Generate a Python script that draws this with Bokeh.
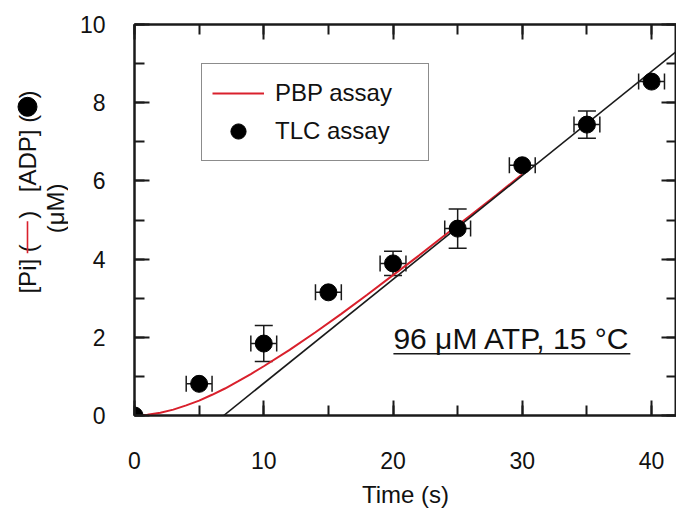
import math
from bokeh.plotting import figure
from bokeh.layouts import row
from bokeh.models import (Range1d, LinearAxis, SingleIntervalTicker, Whisker, TeeHead,
                          ColumnDataSource, Label, Legend, LegendItem, BoxAnnotation,
                          CustomJSTickFormatter)
from bokeh.core.properties import value
from bokeh.embed import file_html
from bokeh.resources import INLINE

# ---- data ----
tlc_time = [0, 5, 10, 15, 20, 25, 30, 35, 40]
tlc_adp = [0.0, 0.81, 1.84, 3.15, 3.89, 4.78, 6.40, 7.44, 8.54]
tlc_time_err = [0, 1, 1, 1, 1, 1, 1, 1, 1]
tlc_adp_err = [0, 0, 0.46, 0, 0.31, 0.50, 0, 0.35, 0]

pbp_time = [0, 1, 2, 3, 4, 5, 6, 7, 8, 9, 10, 12, 14, 16, 18, 20, 22, 24, 26, 28, 30]
pbp_pi = [0.0, 0.02, 0.07, 0.15, 0.26, 0.38, 0.53, 0.69, 0.87, 1.06, 1.26, 1.68,
          2.13, 2.60, 3.09, 3.59, 4.09, 4.61, 5.12, 5.64, 6.17]

fit_time = [6.9, 42.0]
fit_conc = [0.0, 9.33]

x_axis_max = 41.93
y_axis_max = 10.0
x_label = "Time (s)"
annotation_text = "96 \u03bcM ATP, 15 \u00b0C"

FONT = "Liberation Sans"
INK = "#1a1a1a"
TXT = "#111111"
RED = "#d9202c"
H = 513
TW = 68  # width of the side panel holding the rotated y title

p = figure(frame_width=542, frame_height=391,
           x_range=Range1d(0, x_axis_max), y_range=Range1d(0, y_axis_max),
           output_backend="svg", toolbar_location=None,
           min_border_left=134 - TW, min_border_top=24, min_border_bottom=H - 415,
           min_border_right=0)
p.grid.visible = False
p.outline_line_color = INK
p.outline_line_width = 2
p.background_fill_color = "white"
p.border_fill_color = "white"

blank = CustomJSTickFormatter(code="return ''")


def style_axis(ax, ticker, labels=True):
    ax.ticker = ticker
    ax.axis_line_color = INK
    ax.axis_line_width = 2
    ax.major_tick_line_color = INK
    ax.minor_tick_line_color = INK
    ax.major_tick_line_width = 2
    ax.minor_tick_line_width = 2
    ax.major_tick_in = 15
    ax.major_tick_out = 0
    ax.minor_tick_in = 10
    ax.minor_tick_out = 0
    ax.major_label_text_font = FONT
    ax.major_label_text_color = TXT
    ax.major_label_text_font_size = "23px"
    if not labels:
        ax.formatter = blank
        ax.major_label_text_font_size = "1px"
        ax.major_label_standoff = 0


style_axis(p.xaxis[0], SingleIntervalTicker(interval=10, num_minor_ticks=2))
style_axis(p.yaxis[0], SingleIntervalTicker(interval=2, num_minor_ticks=2))
p.xaxis[0].major_label_standoff = 36
p.yaxis[0].major_label_standoff = 29
p.xaxis[0].axis_label = x_label
p.xaxis[0].axis_label_text_font = FONT
p.xaxis[0].axis_label_text_font_size = "24px"
p.xaxis[0].axis_label_text_font_style = "normal"
p.xaxis[0].axis_label_text_color = TXT
p.xaxis[0].axis_label_standoff = 9

top_ax = LinearAxis()
style_axis(top_ax, SingleIntervalTicker(interval=10, num_minor_ticks=2), labels=False)
p.add_layout(top_ax, "above")
right_ax = LinearAxis()
style_axis(right_ax, SingleIntervalTicker(interval=2, num_minor_ticks=2), labels=False)
p.add_layout(right_ax, "right")

# ---- curves ----
r_pbp = p.line(pbp_time, pbp_pi, line_color=RED, line_width=2)
p.line(fit_time, fit_conc, line_color=INK, line_width=1.6)

# ---- error bars ----
yerr_idx = [i for i, e in enumerate(tlc_adp_err) if e > 0]
ysrc = ColumnDataSource(dict(
    x=[tlc_time[i] for i in yerr_idx],
    lo=[tlc_adp[i] - tlc_adp_err[i] for i in yerr_idx],
    hi=[tlc_adp[i] + tlc_adp_err[i] for i in yerr_idx]))
p.add_layout(Whisker(source=ysrc, base="x", lower="lo", upper="hi", dimension="height",
                     line_color=INK, line_width=1.5,
                     lower_head=TeeHead(size=18, line_color=INK, line_width=1.5),
                     upper_head=TeeHead(size=18, line_color=INK, line_width=1.5)))
xerr_idx = [i for i, e in enumerate(tlc_time_err) if e > 0]
xsrc = ColumnDataSource(dict(
    y=[tlc_adp[i] for i in xerr_idx],
    lo=[tlc_time[i] - tlc_time_err[i] for i in xerr_idx],
    hi=[tlc_time[i] + tlc_time_err[i] for i in xerr_idx]))
p.add_layout(Whisker(source=xsrc, base="y", lower="lo", upper="hi", dimension="width",
                     line_color=INK, line_width=1.5,
                     lower_head=TeeHead(size=16, line_color=INK, line_width=1.5),
                     upper_head=TeeHead(size=16, line_color=INK, line_width=1.5)))

r_tlc = p.scatter(tlc_time, tlc_adp, size=17, marker="circle",
                  fill_color="black", line_color="black")

# ---- legend ----
legend = Legend(items=[LegendItem(label="PBP assay", renderers=[r_pbp]),
                       LegendItem(label="TLC assay", renderers=[r_tlc])],
                location=(67, 254), margin=0, padding=10, spacing=0,
                label_height=38, label_width=143, glyph_width=52, glyph_height=38,
                label_standoff=11, label_text_font=FONT, label_text_font_size="24px",
                label_text_color=TXT,
                border_line_color=INK, border_line_width=1.5,
                background_fill_color="white", background_fill_alpha=1)
p.add_layout(legend)

# ---- annotation ----
p.add_layout(Label(x=20.03, y=1.97, text=annotation_text, text_font=FONT,
                   text_font_size="30px", text_color=TXT,
                   text_align="left", text_baseline="middle"))
p.add_layout(BoxAnnotation(left=20.03, right=38.36, bottom=1.56, top=1.60,
                           fill_color=INK, fill_alpha=1, line_alpha=0))

# ---- rotated y-axis title, in a narrow side panel ----
t = figure(width=TW, height=H, x_range=Range1d(0, TW), y_range=Range1d(0, H),
           output_backend="svg", toolbar_location=None,
           x_axis_location=None, y_axis_location=None,
           min_border_left=0, min_border_right=0, min_border_top=0, min_border_bottom=0)
t.grid.visible = False
t.outline_line_color = None
t.border_fill_color = "white"
t.background_fill_color = "white"

rot = math.pi / 2
c1 = 27
# each piece anchored at its starting (lower) end, one renderer per piece
title_pieces = [
    (c1, 353, "[Pi] ("),
    (c1, 255, ")"),
    (c1, 220, "[ADP] ("),
    (c1, 97, ")"),
    (55, 274, "(\u03bcM)"),
]
for px, py, txt in title_pieces:
    t.text(x=[px], y=[H - py], text=[txt], angle=rot,
           text_align="left", text_baseline="middle",
           text_font=value(FONT), text_font_size="24px", text_color=TXT)
t.segment(x0=[c1], y0=[H - 300], x1=[c1], y1=[H - 258], line_color=RED, line_width=1.6)
t.scatter(x=[c1], y=[H - 108], size=19, marker="circle", fill_color="black",
          line_color="black")

layout = row(t, p)
open("out.html", "w").write(file_html(layout, INLINE))
